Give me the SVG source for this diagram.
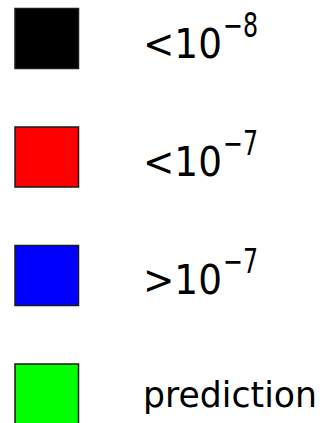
<svg xmlns="http://www.w3.org/2000/svg" width="323" height="423" viewBox="0 0 323 423">
<style>
.sw{stroke:#1a1a1a;stroke-width:1.5}
.t{font-family:"DejaVu Sans",Verdana,sans-serif;font-size:40px;fill:#000}
.s{font-size:34px}
</style>
<rect width="323" height="423" fill="#fff"/>
<g id="item-black">
<rect class="sw" x="15" y="8.5" width="63.5" height="60" fill="#000"/>
<text class="t" x="143" y="58"><tspan textLength="79" lengthAdjust="spacingAndGlyphs">&lt;10</tspan><tspan class="s" x="223" y="37" textLength="35" lengthAdjust="spacingAndGlyphs">−8</tspan></text>
</g>
<g id="item-red">
<rect class="sw" x="15" y="127" width="63.5" height="60" fill="#f00"/>
<text class="t" x="143" y="176"><tspan textLength="79" lengthAdjust="spacingAndGlyphs">&lt;10</tspan><tspan class="s" x="223" y="155" textLength="35" lengthAdjust="spacingAndGlyphs">−7</tspan></text>
</g>
<g id="item-blue">
<rect class="sw" x="15" y="245.5" width="63.5" height="60" fill="#00f"/>
<text class="t" x="143" y="294"><tspan textLength="79" lengthAdjust="spacingAndGlyphs">&gt;10</tspan><tspan class="s" x="223" y="273" textLength="35" lengthAdjust="spacingAndGlyphs">−7</tspan></text>
</g>
<g id="item-green">
<rect class="sw" x="15" y="364" width="63.5" height="60" fill="#0f0"/>
<text class="t" x="143" y="407" textLength="174" lengthAdjust="spacingAndGlyphs" style="font-size:36px">prediction</text>
</g>
</svg>
